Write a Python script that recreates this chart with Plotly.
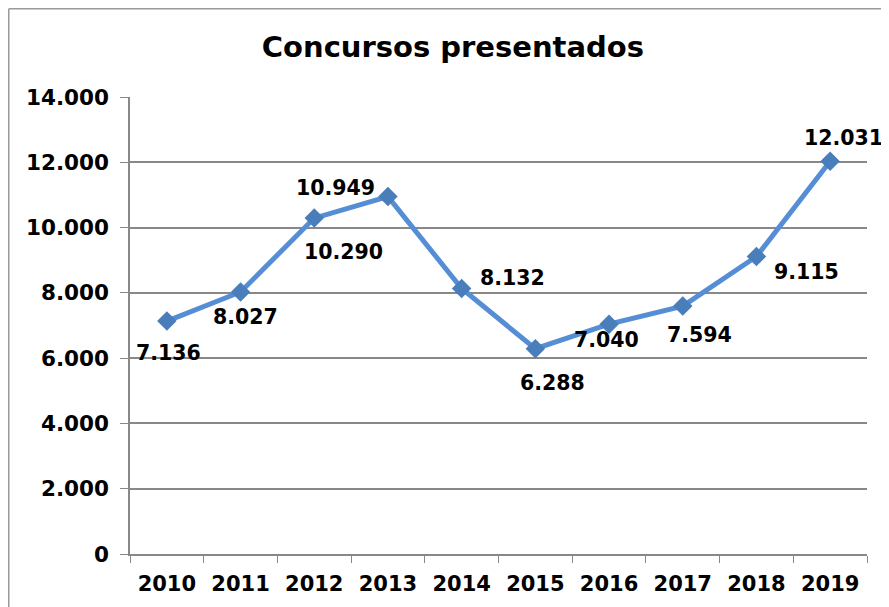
import plotly.graph_objects as go

years = ["2010", "2011", "2012", "2013", "2014", "2015", "2016", "2017", "2018", "2019"]
values = [7136, 8027, 10290, 10949, 8132, 6288, 7040, 7594, 9115, 12031]
labels = ["7.136", "8.027", "10.290", "10.949", "8.132", "6.288", "7.040", "7.594", "9.115", "12.031"]
# label offsets in pixels (dx right, dy down)
label_dx = [2, 5, 29, -52, 51, 17, -3, 17, 50, 13]
label_dy = [31, 24, 33, -10, -12, 33, 15, 28, 15, -24]

tick_vals = [0, 2000, 4000, 6000, 8000, 10000, 12000, 14000]
tick_text = ["0", "2.000", "4.000", "6.000", "8.000", "10.000", "12.000", "14.000"]

FONT = "DejaVu Sans"
GRID = "#888888"

fig = go.Figure()
fig.add_trace(go.Scatter(
    x=years, y=values, mode="lines+markers",
    line=dict(color="#558ED5", width=5),
    marker=dict(symbol="diamond", size=15, color="#4A7EBB"),
    showlegend=False, hoverinfo="x+y",
))

annotations = []
for i, (y, t, dx, dy) in enumerate(zip(values, labels, label_dx, label_dy)):
    annotations.append(dict(x=i, y=y, xref="x", yref="y", text=t,
                            showarrow=False,
                            xshift=dx, yshift=-(dy + 1),
                            font=dict(family=FONT, size=20.5, color="black", weight="bold")))

ML, MT, MR, MB = 122, 89, 22, 53
W, H = 881, 599
PW, PH = W - ML - MR, H - MT - MB
fx0 = (0.75 - ML) / PW
fy1 = 1 + (MT - 0.75) / PH

fig.update_layout(
    width=W, height=H,
    margin=dict(l=ML, r=MR, t=MT, b=MB, autoexpand=False),
    paper_bgcolor="white", plot_bgcolor="white",
    annotations=annotations,
    shapes=[dict(type="line", xref="paper", yref="paper", x0=fx0, x1=fx0, y0=-0.3, y1=fy1,
                 line=dict(color="#9a9a9a", width=1.5)),
            dict(type="line", xref="paper", yref="paper", x0=fx0, x1=1.2, y0=fy1, y1=fy1,
                 line=dict(color="#9a9a9a", width=1.5))],
    title=dict(text="<b>Concursos presentados</b>", x=0.505, xanchor="center",
               y=0.935, yanchor="middle",
               font=dict(family=FONT, size=29, color="#000000")),
    font=dict(family=FONT, size=20, color="#000000"),
    xaxis=dict(type="category", showgrid=False, showline=True, linecolor=GRID,
               linewidth=1.5, ticks="outside", ticklen=7, tickcolor=GRID,
               tickson="boundaries", tickfont=dict(family=FONT, size=21),
               ticklabelstandoff=10,
               tickprefix="<b>", ticksuffix="</b>", range=[-0.5, 9.5]),
    yaxis=dict(range=[0, 14000], tickvals=tick_vals, ticktext=["<b>" + t + "</b>" for t in tick_text],
               showgrid=True, gridcolor=GRID, gridwidth=1.5, showline=True,
               linecolor=GRID, linewidth=1.5, ticks="outside", ticklen=8,
               tickcolor=GRID, zeroline=False, ticklabelstandoff=7,
               tickfont=dict(family=FONT, size=21.5)),
)

fig.write_html("out.html")
